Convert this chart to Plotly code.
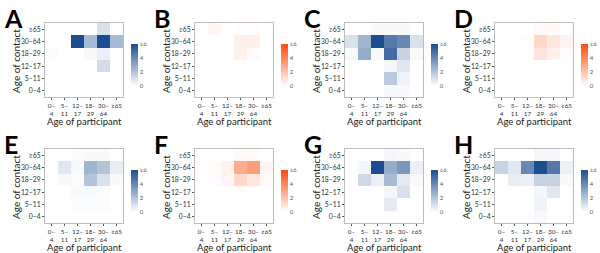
import plotly.graph_objects as go

participant_ages = ["0–<br>4", "5–<br>11", "12–<br>17", "18–<br>29", "30–<br>64", "≥65"]
contact_ages = ["0–4", "5–11", "12–17", "18–29", "30–64", "≥65"]
panel_letters = ["A", "B", "C", "D", "E", "F", "G", "H"]
panel_colors = ["blue", "orange", "blue", "orange", "blue", "orange", "blue", "blue"]

# rows: contact age from 0–4 (bottom) to ≥65 (top); columns: participant age
panel_A = [[0, 0, 0, 0, 0, 0],
           [0, 0, 0, 0, 0, 0],
           [0, 0, 0, 0, 1.2, 0],
           [0.1, 0, 0, 0.2, 0.5, 0],
           [0, 0, 6, 2.3, 6, 2.3],
           [0, 0, 0, 0, 1, 0]]
panel_B = [[0, 0, 0, 0, 0, 0],
           [0, 0, 0, 0, 0, 0],
           [0, 0, 0, 0, 0, 0],
           [0, 0, 0, 0.5, 0.2, 0],
           [0, 0, 0, 0.5, 0.5, 0],
           [0, 0.3, 0, 0.1, 0.1, 0]]
panel_C = [[0, 0, 0, 0.2, 0.2, 0],
           [0, 0, 0, 1.8, 0.4, 0],
           [0, 0, 0, 0.3, 0.8, 0],
           [0.2, 2.8, 0.2, 5, 1.5, 0.2],
           [1, 2.5, 6, 4.5, 4, 1],
           [0, 0, 0.2, 0.2, 0.2, 0]]
panel_D = [[0, 0, 0, 0, 0, 0],
           [0, 0, 0, 0, 0, 0],
           [0, 0, 0, 0, 0, 0],
           [0, 0, 0, 0.9, 0.5, 0.1],
           [0, 0, 0.1, 1.3, 0.8, 0.4],
           [0, 0, 0, 0.2, 0.2, 0]]
panel_E = [[0, 0, 0, 0, 0, 0],
           [0, 0, 0.1, 0.1, 0.1, 0],
           [0, 0, 0.2, 0.2, 0.1, 0],
           [0, 0.2, 0.1, 2, 1, 0.2],
           [0, 0.8, 0.2, 2.5, 2, 0.6],
           [0, 0, 0.1, 0.2, 0.2, 0]]
panel_F = [[0, 0, 0, 0, 0, 0],
           [0, 0, 0, 0, 0, 0],
           [0, 0, 0, 0.1, 0, 0],
           [0, 0.1, 0.3, 1.3, 0.8, 0.2],
           [0.1, 0.1, 0.4, 2.8, 3.2, 0.3],
           [0, 0, 0, 0.2, 0.2, 0]]
panel_G = [[0, 0, 0, 0, 0, 0],
           [0, 0, 0, 0.7, 0, 0],
           [0, 0, 0, 0.3, 1, 0],
           [0, 1.3, 0.5, 2.3, 0.7, 0.2],
           [0, 0.3, 6, 2.8, 3.5, 0.5],
           [0, 0, 0, 0.3, 0.2, 0]]
panel_H = [[0, 0, 0, 0.2, 0, 0],
           [0, 0, 0, 0.4, 0, 0],
           [0, 0, 0, 0.3, 0.8, 0],
           [0, 0.6, 0.5, 1.5, 1.5, 0.2],
           [1.5, 0.8, 4, 6, 4.5, 0.5],
           [0, 0, 0, 0.3, 0.3, 0]]
panels = [panel_A, panel_B, panel_C, panel_D, panel_E, panel_F, panel_G, panel_H]

colorbar_ticks = [0, 2, 4, 6]
colorbar_labels = ["0", "2", "4", "≥6"]

W, H = 600, 253
scales = {"blue": [[0, "#ffffff"], [1, "#1c4d8e"]],
          "orange": [[0, "#ffffff"], [1, "#ff4a0c"]]}
FONT = "Lato"

fig = go.Figure()
annotations = []
layout_axes = {}

for i, (letter, z, col) in enumerate(zip(panel_letters, panels, panel_colors)):
    ox = (i % 4) * 150
    oy = (i // 4) * 126
    x0, x1 = ox + 45, ox + 123
    y0, y1 = oy + 23, oy + 97
    n = i + 1
    xa = "x" if n == 1 else f"x{n}"
    ya = "y" if n == 1 else f"y{n}"
    fig.add_trace(go.Heatmap(
        z=z, x=participant_ages, y=contact_ages,
        xaxis=xa, yaxis=ya,
        zmin=0, zmax=6, colorscale=scales[col],
        colorbar=dict(
            x=(ox + 131) / W, xanchor="left",
            y=1 - (oy + 65) / H, yanchor="middle",
            len=42, lenmode="pixels", thickness=7,
            outlinewidth=0, tickvals=colorbar_ticks, ticktext=colorbar_labels,
            ticks="", ticklabelposition="outside",
            tickfont=dict(size=6, color="#555", family=FONT),
            xpad=0, ypad=0,
        ),
        hoverinfo="skip",
    ))
    axis_common = dict(showline=True, mirror=True, linecolor="#bdbdbd", linewidth=1,
                       ticks="outside", ticklen=2, tickcolor="#555", showgrid=False,
                       zeroline=False)
    layout_axes["xaxis" if n == 1 else f"xaxis{n}"] = dict(
        domain=[x0 / W, x1 / W], anchor=ya, type="category", tickangle=0,
        tickfont=dict(size=6.3, color="#333", family=FONT), **axis_common)
    layout_axes["yaxis" if n == 1 else f"yaxis{n}"] = dict(
        domain=[1 - y1 / H, 1 - y0 / H], anchor=xa, type="category",
        tickfont=dict(size=6.8, color="#333", family=FONT), **axis_common)
    annotations.append(dict(text=f"<b>{letter}</b>", x=(ox + 2) / W, y=1 - (oy + 1) / H,
                            xref="paper", yref="paper", xanchor="left", yanchor="top",
                            showarrow=False, font=dict(size=25, color="black", family=FONT)))
    annotations.append(dict(text="Age of contact", x=(ox + 16) / W, y=1 - (oy + 61) / H,
                            xref="paper", yref="paper", xanchor="center", yanchor="middle",
                            textangle=-90, showarrow=False,
                            font=dict(size=10, color="#222", family=FONT)))
    annotations.append(dict(text="Age of participant", x=(ox + 84) / W, y=1 - (oy + 121.5) / H,
                            xref="paper", yref="paper", xanchor="center", yanchor="middle",
                            showarrow=False, font=dict(size=9.5, color="#222", family=FONT)))

fig.update_layout(width=W, height=H, margin=dict(l=0, r=0, t=0, b=0),
                  paper_bgcolor="white", plot_bgcolor="white",
                  annotations=annotations, **layout_axes)

fig.write_html("out.html", config={"displayModeBar": False},
               post_script="document.body.style.margin='0';")
